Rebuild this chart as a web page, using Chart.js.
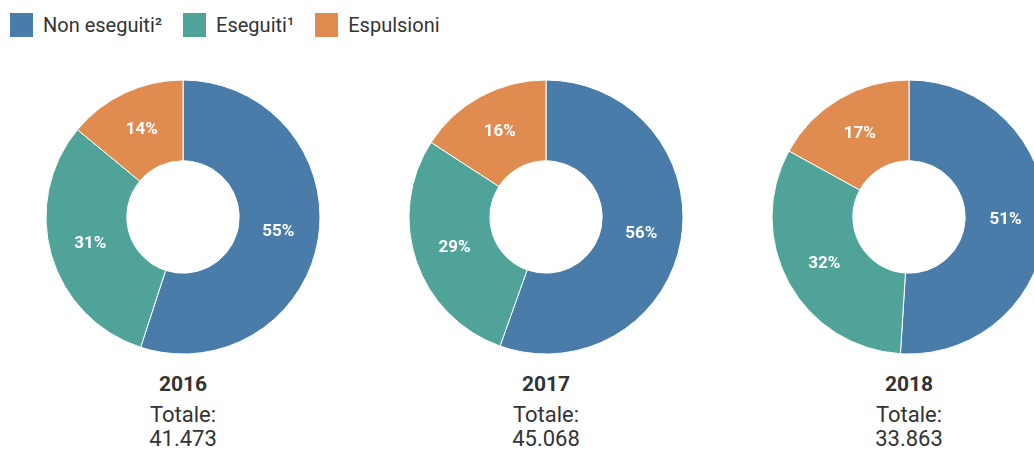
<!DOCTYPE html>
<html lang="it">
<head>
<meta charset="utf-8">
<title>Rimpatri</title>
<script src="https://cdn.jsdelivr.net/npm/chart.js@4/dist/chart.umd.min.js"></script>
<style>
  html, body { margin: 0; padding: 0; background: #fff; }
  body { width: 1034px; height: 450px; overflow: hidden; position: relative; font-family: Roboto, Arial, sans-serif; color: #333; }
  .legend { position: absolute; left: 10px; top: 13px; height: 24px; display: flex; align-items: center; font-size: 20px; }
  .legend .item { display: flex; align-items: center; margin-right: 21px; }
  .legend .box { width: 23px; height: 24px; margin-right: 10px; }
  .donut { position: absolute; top: 77px; width: 280px; height: 280px; }
  .caption { position: absolute; top: 372px; width: 280px; text-align: center; font-size: 22px; line-height: 24px; }
  .caption b { display: block; font-size: 21px; line-height: 25px; margin-bottom: 6px; }
</style>
</head>
<body>
<div class="legend" id="legend"></div>

<script>
// rimpatri per anno, quote in percentuale
const categories = ['Non eseguiti²', 'Eseguiti¹', 'Espulsioni'];
const years = ['2016', '2017', '2018'];
const totals = ['41.473', '45.068', '33.863'];
const values2016 = [55, 31, 14];
const values2017 = [56, 29, 16];
const values2018 = [51, 32, 17];
const seriesByYear = [values2016, values2017, values2018];

const colors = ['#497ca9', '#4fa399', '#e08b50'];
const centersX = [183, 546, 909];

// legenda
const legend = document.getElementById('legend');
categories.forEach(function (name, i) {
  const item = document.createElement('div');
  item.className = 'item';
  item.innerHTML = '<span class="box" style="background:' + colors[i] + '"></span>' + name;
  legend.appendChild(item);
});

// etichette percentuali al centro di ogni spicchio
const sliceLabels = {
  id: 'sliceLabels',
  afterDatasetsDraw(chart) {
    const ctx = chart.ctx;
    const data = chart.data.datasets[0].data;
    ctx.save();
    ctx.fillStyle = '#fff';
    ctx.font = 'bold 17px Roboto, Arial, sans-serif';
    ctx.textAlign = 'center';
    ctx.textBaseline = 'middle';
    chart.getDatasetMeta(0).data.forEach(function (arc, i) {
      const p = arc.tooltipPosition();
      ctx.fillText(data[i] + '%', p.x, p.y);
    });
    ctx.restore();
  }
};

years.forEach(function (year, k) {
  const wrap = document.createElement('div');
  wrap.className = 'donut';
  wrap.style.left = (centersX[k] - 140) + 'px';
  const canvas = document.createElement('canvas');
  wrap.appendChild(canvas);
  document.body.appendChild(wrap);

  const cap = document.createElement('div');
  cap.className = 'caption';
  cap.style.left = (centersX[k] - 140) + 'px';
  cap.innerHTML = '<b>' + year + '</b>Totale:<br>' + totals[k];
  document.body.appendChild(cap);

  new Chart(canvas, {
    type: 'doughnut',
    data: {
      labels: categories,
      datasets: [{
        data: seriesByYear[k],
        backgroundColor: colors,
        borderColor: '#ffffff',
        borderWidth: 1,
        hoverOffset: 0
      }]
    },
    options: {
      responsive: true,
      maintainAspectRatio: false,
      animation: false,
      radius: 137,
      cutout: '41%',
      layout: { padding: 0 },
      plugins: {
        legend: { display: false },
        tooltip: { enabled: false }
      }
    },
    plugins: [sliceLabels]
  });
});
</script>
</body>
</html>
